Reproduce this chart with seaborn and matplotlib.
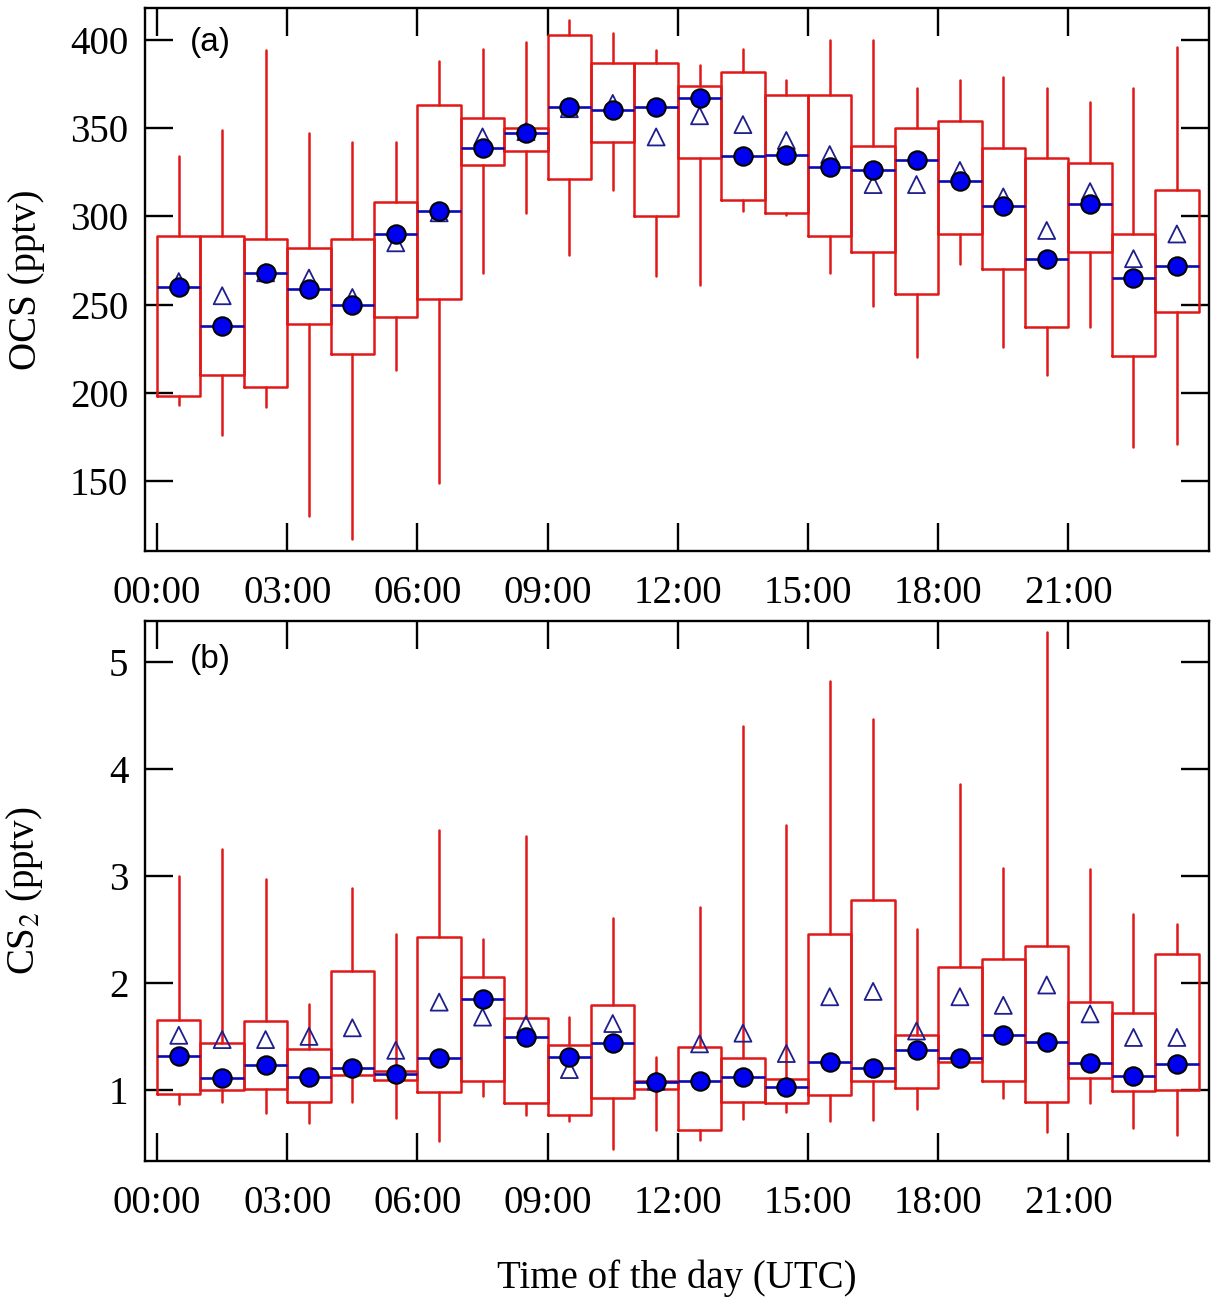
"""
Diurnal box plots of OCS and CS2 mixing ratios by hour of day (UTC).
"""

import matplotlib
matplotlib.use("Agg")
import numpy as np
import pandas as pd
import matplotlib.pyplot as plt
import seaborn as sns

sns.set_theme(style="ticks")
plt.rcParams['font.family'] = ['Liberation Serif', 'DejaVu Serif']
plt.rcParams['mathtext.fontset'] = 'stix'
plt.rcParams['text.color'] = 'black'
plt.rcParams['axes.labelcolor'] = 'black'

# =============================================================================
# DATA
# =============================================================================

hours = list(range(24))
tick_hours = [0, 3, 6, 9, 12, 15, 18, 21]
tick_labels = ['00:00', '03:00', '06:00', '09:00', '12:00', '15:00', '18:00', '21:00']

# (a) OCS, pptv
ocs_whislo = [193, 176, 192, 130, 117, 213, 149, 268, 302, 278, 315, 266,
              261, 303, 301, 268, 249, 220, 273, 226, 210, 237, 169, 171]
ocs_q1 = [198, 210, 203, 239, 222, 243, 253, 329, 337, 321, 342, 300,
          333, 309, 302, 289, 280, 256, 290, 270, 237, 280, 221, 246]
ocs_med = [260, 238, 268, 259, 250, 290, 303, 339, 347, 362, 360, 362,
           367, 334, 335, 328, 326, 332, 320, 306, 276, 307, 265, 272]
ocs_q3 = [289, 289, 287, 282, 287, 308, 363, 356, 350, 403, 387, 387,
          374, 382, 369, 369, 340, 350, 354, 339, 333, 330, 290, 315]
ocs_whishi = [334, 349, 394, 347, 342, 342, 388, 395, 399, 411, 404, 394,
              386, 395, 377, 400, 400, 373, 377, 379, 373, 365, 373, 396]
ocs_mean = [263, 255, 268, 265, 254, 285, 302, 345, 348, 361, 364, 345,
            357, 352, 343, 335, 318, 318, 326, 311, 292, 314, 276, 290]

# (b) CS2, pptv
cs2_whislo = [0.87, 0.89, 0.78, 0.69, 0.89, 0.74, 0.52, 0.94, 0.77, 0.71, 0.45, 0.63,
              0.53, 0.73, 0.79, 0.71, 0.72, 0.82, 1.24, 0.92, 0.61, 0.88, 0.64, 0.58]
cs2_q1 = [0.96, 1.00, 1.01, 0.89, 1.14, 1.09, 0.98, 1.08, 0.88, 0.77, 0.92, 1.01,
          0.63, 0.89, 0.88, 0.95, 1.08, 1.02, 1.26, 1.08, 0.89, 1.11, 0.99, 1.00]
cs2_med = [1.32, 1.11, 1.23, 1.12, 1.20, 1.15, 1.30, 1.85, 1.49, 1.31, 1.44, 1.07,
           1.08, 1.12, 1.03, 1.26, 1.20, 1.37, 1.30, 1.51, 1.45, 1.25, 1.13, 1.24]
cs2_q3 = [1.65, 1.44, 1.64, 1.38, 2.11, 1.18, 2.43, 2.05, 1.67, 1.42, 1.79, 1.08,
          1.40, 1.30, 1.10, 2.46, 2.77, 1.51, 2.15, 2.22, 2.34, 1.82, 1.72, 2.27]
cs2_whishi = [3.00, 3.25, 2.97, 1.80, 2.89, 2.46, 3.43, 2.41, 3.37, 1.68, 2.61, 1.31,
              2.71, 4.40, 3.47, 4.82, 4.46, 2.50, 3.86, 3.07, 5.28, 3.06, 2.64, 2.55]
cs2_mean = [1.51, 1.47, 1.47, 1.50, 1.58, 1.37, 1.82, 1.68, 1.61, 1.19, 1.62, 1.08,
            1.43, 1.53, 1.34, 1.87, 1.92, 1.55, 1.87, 1.79, 1.98, 1.71, 1.49, 1.49]

# =============================================================================
# STYLE
# =============================================================================

box_red = '#e01818'
median_blue = '#0a0ab4'
dot_blue = '#0000f0'
tri_navy = '#1e1e8c'


def box_stats(whislo, q1, med, q3, whishi):
    return [dict(whislo=lo, q1=a, med=m, q3=b, whishi=hi, fliers=[])
            for lo, a, m, b, hi in zip(whislo, q1, med, q3, whishi)]


def draw_panel(ax, stats, med, mean, ylim, yticks, ylabel, tag):
    centers = np.array(hours) + 0.5
    ax.bxp(
        stats,
        positions=centers,
        widths=1.0,
        showfliers=False,
        showcaps=False,
        patch_artist=False,
        boxprops=dict(color=box_red, linewidth=1.8),
        whiskerprops=dict(color=box_red, linewidth=1.8),
        medianprops=dict(color=median_blue, linewidth=1.9),
        manage_ticks=False,
        zorder=2,
    )

    df = pd.DataFrame({'x': centers, 'median': med, 'mean': mean})
    # mean as open triangles, median as filled circles on top
    sns.scatterplot(data=df, x='x', y='mean', marker='^', s=150,
                    facecolor='none', edgecolor=tri_navy, linewidth=1.3,
                    ax=ax, zorder=3)
    sns.scatterplot(data=df, x='x', y='median', marker='o', s=175,
                    color=dot_blue, edgecolor='black', linewidth=1.5,
                    ax=ax, zorder=4)

    ax.set_xlim(-0.28, 24.24)
    ax.set_ylim(*ylim)
    ax.set_xticks(tick_hours)
    ax.set_xticklabels(tick_labels)
    ax.set_yticks(yticks)
    ax.set_yticklabels([str(t) for t in yticks])
    ax.tick_params(direction='in', length=20, width=1.7, top=True, right=True,
                   labelsize=28, colors='black')
    ax.tick_params(axis='x', pad=17)
    ax.tick_params(axis='y', pad=12)
    for sp in ax.spines.values():
        sp.set_visible(True)
        sp.set_color('black')
        sp.set_linewidth(1.7)
    ax.set_xlabel('')
    ax.set_ylabel(ylabel, fontsize=28, color='black')
    ax.yaxis.set_label_coords(-0.094, 0.5)
    ax.text(0.042, tag[1], tag[0], transform=ax.transAxes, fontsize=24,
            family='Liberation Sans', color='black', ha='left', va='center')


fig = plt.figure(figsize=(12.18, 13.03), dpi=100)
ax_a = fig.add_axes([0.119, 0.5771, 0.8736, 0.4168])
ax_b = fig.add_axes([0.119, 0.1090, 0.8736, 0.4144])

draw_panel(ax_a, box_stats(ocs_whislo, ocs_q1, ocs_med, ocs_q3, ocs_whishi),
           ocs_med, ocs_mean, (110.3, 418.1), [150, 200, 250, 300, 350, 400],
           'OCS (pptv)', ('(a)', 0.937))
draw_panel(ax_b, box_stats(cs2_whislo, cs2_q1, cs2_med, cs2_q3, cs2_whishi),
           cs2_med, cs2_mean, (0.336, 5.38), [1, 2, 3, 4, 5],
           r'CS$_2$ (pptv)', ('(b)', 0.928))

fig.text(0.5558, 0.0192, 'Time of the day (UTC)', fontsize=28, color='black',
         ha='center', va='center')

fig.savefig('out.png', dpi=100)
